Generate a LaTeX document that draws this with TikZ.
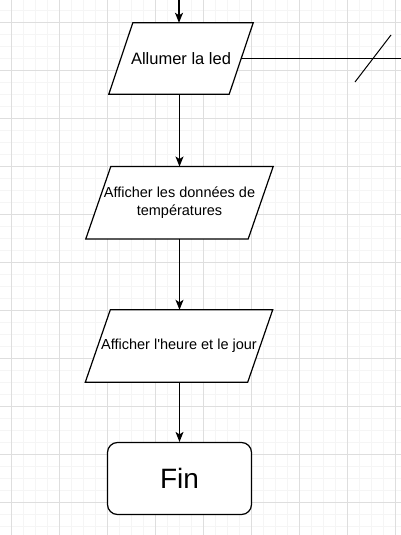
\documentclass[tikz,border=0pt]{standalone}
\usepackage{fontspec}
\setmainfont{Liberation Sans}
\usetikzlibrary{arrows.meta,positioning,backgrounds}
\definecolor{grillemaj}{HTML}{DEDEDE}
\definecolor{grillemin}{HTML}{F5F5F5}

% contour en parallelogramme autour d'un noeud (#2 = demi-decalage)
\newcommand{\contourpar}[2]{%
  \draw[line width=1.2pt, fill=white]
    ([xshift=#2]#1.north west) -- ([xshift=#2]#1.north east)
    -- ([xshift=-#2]#1.south east) -- ([xshift=-#2]#1.south west) -- cycle;}

\begin{document}
\begin{tikzpicture}[x=1pt, y=-1pt,
  entree/.style={inner sep=0pt, align=center,
    font=\fontsize{14.5}{18.5}\selectfont},
  fin/.style={draw, line width=1.2pt, fill=white, rounded corners=10pt,
    minimum width=144pt, minimum height=72pt,
    font=\fontsize{28}{32}\selectfont},
  fleche/.style={-{Stealth[length=10pt, width=8pt, inset=2.5pt]}, line width=1.2pt},
  trait/.style={line width=1.2pt}]
\useasboundingbox (0,0) rectangle (401,535);

% grille de fond
\begin{scope}[on background layer]
\fill[white] (0,0) rectangle (401,535);
\foreach \x in {-0.7,11.3,...,401} {
  \draw[grillemin, line width=0.8pt] (\x,0) -- (\x,535);
}
\foreach \y in {10.3,22.3,...,535} {
  \draw[grillemin, line width=0.8pt] (0,\y) -- (401,\y);
}
\foreach \x in {11.3,59.3,...,401} {
  \draw[grillemaj, line width=0.8pt] (\x,0) -- (\x,535);
}
\foreach \y in {22.3,70.3,...,535} {
  \draw[grillemaj, line width=0.8pt] (0,\y) -- (401,\y);
}
\end{scope}

% blocs
\node[entree, minimum width=120pt, minimum height=71pt,
  font=\fontsize{16.5}{20}\selectfont] (led) at (181,58.5) {Allumer la led};
\node[entree, minimum width=162pt, minimum height=72pt] (temp) at (179.5,202.7)
  {Afficher les données de\\températures};
\node[entree, minimum width=162pt, minimum height=72pt] (heure) at (179,346)
  {Afficher l\textquotesingle heure et le jour};
\node[fin] (fin) at (179.5,478.5) {Fin};

\begin{scope}[on background layer]
\contourpar{led}{12pt}
\contourpar{temp}{12.5pt}
\contourpar{heure}{12.5pt}
\end{scope}

% liaisons
\coordinate (haut) at (179,0);
\coordinate (bord) at (401,58.5);
\draw[fleche] (haut) -- (haut |- led.north);
\draw[fleche] (led.south -| temp.north) -- (temp.north);
\draw[fleche] (temp.south) -- (temp.south |- heure.north);
\draw[fleche] (heure.south -| fin.north) -- (fin.north);
\draw[trait] (led.east) -- (bord);
\draw[line width=1pt] (355,82) -- (391,35);
\end{tikzpicture}
\end{document}
